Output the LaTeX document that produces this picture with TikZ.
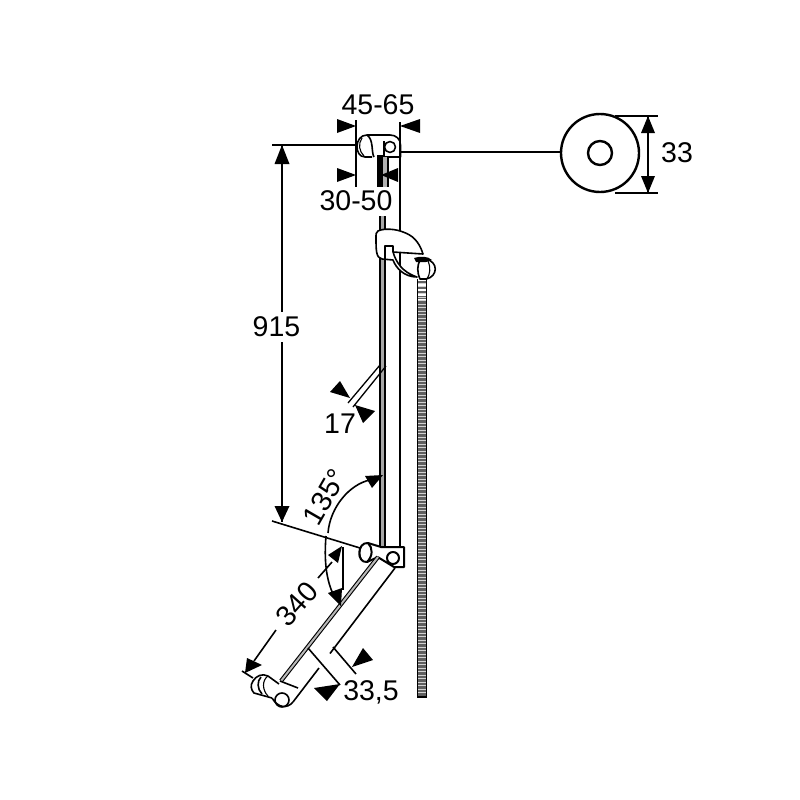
\documentclass[tikz,border=0pt]{standalone}
\usepackage{fontspec}
\setmainfont{Liberation Sans}
\begin{document}
\begin{tikzpicture}[x=1pt,y=-1pt,
  part/.style={draw=black,line width=1.6pt,line join=round},
  thin part/.style={draw=black,line width=1.1pt},
  heavy/.style={draw=black,line width=2.2pt},
  dimline/.style={draw=black,line width=1.6pt},
  head/.style={fill=black,draw=none},
  lab/.style={inner sep=0pt,font=\fontsize{28.5}{28.5}\selectfont}]
\useasboundingbox (0,0) rectangle (800,800);

% --- hose
\fill[gray!75!black] (417.5,279) rectangle (426.5,697);
\draw[line width=9pt,white!65!gray,dash pattern=on 0.9pt off 2.6pt] (422,279) -- (422,697);
\draw[line width=9pt,white,dash pattern=on 1.6pt off 3.4pt] (422,279) -- (422,300);
\draw[thin part] (417.5,279) -- (417.5,697) -- (426.5,697) -- (426.5,279);

% --- rail
\fill[gray!70] (380,216) rectangle (385,548);
\draw[part] (380,216) -- (380,548);
\draw[part] (385,216) -- (385,548);
\draw[part] (400,122) -- (400,548);

% --- top clamp
\coordinate (topline) at (358,145);
\coordinate (dimtop) at (282,145);
\draw[part] (372,157) -- (365,157) .. controls (354,157) and (354,135) .. (367,135) -- (390,135)
  .. controls (396,135) and (400.5,139) .. (400.5,145) -- (400.5,157) -- (384,157) -- (384,141);
\draw[part] (367,135) .. controls (374,140) and (371,152) .. (374,157);
\draw[thin part] (362,138) .. controls (358,144) and (359,151) .. (364,156);
\draw[part] (390,147) circle (5.5);
\fill[black] (376.5,155) rectangle (383,187);
\fill[gray!60] (383,157) rectangle (388,187);
\draw[thin part] (388,157) -- (388,187);

% --- knob under the holder
\draw[part,fill=white] (425,259) .. controls (439,261) and (438,277) .. (426,279) -- (420,279)
  .. controls (417,272) and (417,266) .. (420,260);
\draw[thin part] (428,261) .. controls (431,268) and (430,274) .. (427,279);
\fill[black] (414,258) .. controls (420,256) and (428,256) .. (432,260) -- (426,262) -- (416,262) -- cycle;

% --- holder
\draw[part,fill=white] (378,231) .. controls (384,228) and (396,229) .. (403,232)
  .. controls (412,235) and (419,241) .. (423,254) -- (393,252)
  .. controls (396,262) and (402,272) .. (417,277)
  .. controls (404,277) and (396,268) .. (393,260) -- (382,259)
  .. controls (376,258) and (376,250) .. (376,238) .. controls (376,234) and (376,232) .. (378,231) -- cycle;
\draw[part] (385,259) -- (385,246) -- (393,246) -- (393,252);

% --- bottom joint on the rail
\draw[part,line width=2pt,fill=white] (380,547) -- (404,547) -- (404,567) -- (394,567) -- (376,556);
\draw[part,line width=2pt] (393,558) circle (6);
\draw[part,line width=2pt,fill=white] (381,547) -- (368,543) .. controls (357,542) and (356,563) .. (367,562) -- (378,557);
\draw[part,line width=2pt] (368,543) .. controls (373,548) and (373,556) .. (367,562);
\draw[thin part] (362,545) .. controls (359,550) and (359,556) .. (362,560);

% --- swing arm
\coordinate (armA) at (378,557);
\coordinate (armB) at (281,681);
\draw[line width=4.2pt,black] (armA) -- (armB);
\draw[line width=2pt,gray!55] (armA) -- (armB);
\draw[part] (395,568) -- (330,653.5);
\draw[part] (319,668) -- (293,702);
\draw[part,fill=white] (293,702) .. controls (287,709) and (278,708) .. (272,698);
\draw[part] (280,681) -- (298,688);
\draw[part] (282,700) circle (7);
\draw[part,fill=white] (279,684) -- (268,676) .. controls (262,673) and (256,676) .. (253,681)
  .. controls (250,685) and (251,690) .. (254,693) -- (272,698);
\draw[part] (261,677) .. controls (257,681) and (257,689) .. (262,694);
\draw[thin part] (268,676) .. controls (262,680) and (262,690) .. (268,696);

% --- 45-65
\coordinate (w1t) at (356,120);
\coordinate (w1b) at (356,187);
\draw[dimline] (w1t) -- (w1b);
\fill[head] (356,126) -- (337,119) -- (337,133) -- cycle;
\fill[head] (400,126) -- (420,119) -- (420,133) -- cycle;
\node[lab] (l4565) at (378,105) {45-65};

% --- 30-50
\fill[head] (356,175) -- (337,168) -- (337,182) -- cycle;
\fill[head] (381,175) -- (398,168) -- (398,182) -- cycle;
\node[lab] (l3050) at (356,201) {30-50};

% --- 915
\coordinate (dimbot) at (282,522);
\coordinate (gapA) at (282,312);
\coordinate (gapB) at (282,342);
\draw[dimline] (272,145) -- (topline);
\draw[dimline] (dimtop) -- (gapA);
\draw[dimline] (gapB) -- (dimbot);
\fill[head] (282,145) -- (274.5,164) -- (289.5,164) -- cycle;
\fill[head] (282,522) -- (274.5,506) -- (289.5,506) -- cycle;
\node[lab] (l915) at (276.5,327) {915};

% --- 17
\coordinate (s1a) at (380,365);
\coordinate (s1b) at (348,403);
\coordinate (s2a) at (386,366);
\coordinate (s2b) at (353,407);
\draw[thin part,line width=1.3pt] (s1a) -- (s1b);
\draw[thin part,line width=1.3pt] (s2a) -- (s2b);
\fill[head] (350,398) -- (340,381) -- (330,392) -- cycle;
\fill[head] (355,405) -- (375,411) -- (363,423) -- cycle;
\node[lab] (l17) at (340,424) {17};

% --- 135 degrees and the reference line
\coordinate (refA) at (272,521);
\coordinate (refB) at (360,548);
\draw[dimline] (refA) -- (refB);
\draw[dimline] (328,533) .. controls (330,507) and (350,484) .. (370,480);
\fill[head] (383,475) -- (365,476) -- (372,488) -- cycle;
\node[lab,rotate=60] (l135) at (325,497) {135°};

% --- lower angle
\draw[dimline] (326,536) .. controls (324,560) and (326,580) .. (334,596);
\fill[head] (341,606) -- (328,593) -- (342,588) -- cycle;
\draw[dimline] (343,547) -- (343,590);

% --- 340
\coordinate (lenA) at (332,562);
\coordinate (lenB) at (318,578);
\coordinate (lenC) at (276,630);
\coordinate (lenD) at (254,661);
\draw[dimline] (lenA) -- (lenB);
\draw[dimline] (lenC) -- (lenD);
\fill[head] (342,546) -- (328,555) -- (338,563) -- cycle;
\fill[head] (245,673) -- (247,658) -- (262,665) -- cycle;
\draw[dimline] (242,671) -- (253,678);
\node[lab,rotate=48] (l340) at (297,604) {340};

% --- 33,5
\coordinate (d1a) at (308,648);
\coordinate (d1b) at (340,685);
\coordinate (d2a) at (333,647);
\coordinate (d2b) at (356,674);
\draw[dimline] (d1a) -- (d1b);
\draw[dimline] (d2a) -- (d2b);
\fill[head] (340,684) -- (314,688) -- (327,701) -- cycle;
\fill[head] (352,667) -- (363,648) -- (373,660) -- cycle;
\node[lab] (l335) at (371,692) {33,5};

% --- wall disc
\node[circle,draw=black,line width=2.4pt,minimum size=78pt,inner sep=0pt] (disc) at (600,153) {};
\node[circle,draw=black,line width=2.4pt,minimum size=24pt,inner sep=0pt] (bore) at (600,153) {};
\coordinate (claspt) at (400,152);
\coordinate (discin) at (561,152);
\draw[heavy] (claspt) -- (discin);
\coordinate (e1a) at (615,116);
\coordinate (e1b) at (658,116);
\coordinate (e2a) at (615,193);
\coordinate (e2b) at (658,193);
\draw[dimline] (e1a) -- (e1b);
\draw[heavy] (e2a) -- (e2b);
\draw[dimline] (648,116) -- (648,193);
\fill[head] (648,116) -- (641,133) -- (655,133) -- cycle;
\fill[head] (648,193) -- (641,176) -- (655,176) -- cycle;
\node[lab] (l33) at (677,153) {33};
\end{tikzpicture}
\end{document}
